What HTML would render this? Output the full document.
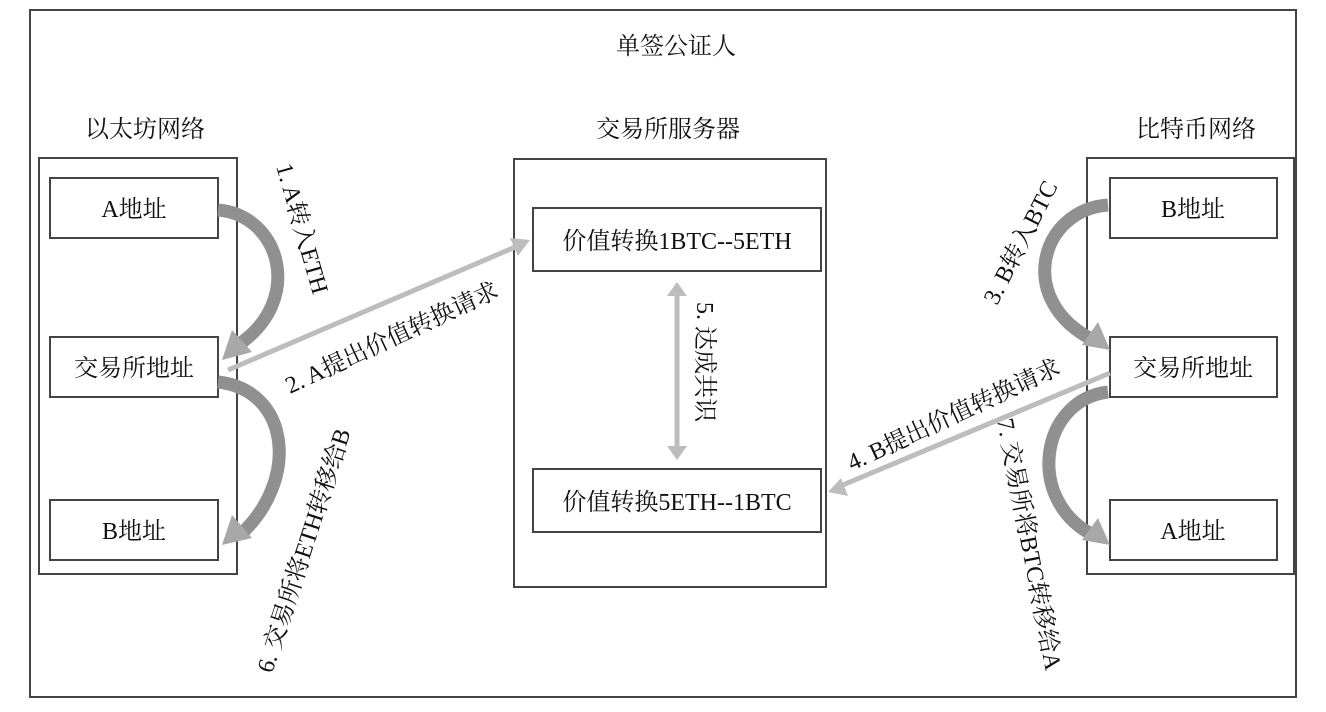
<!DOCTYPE html>
<html><head><meta charset="utf-8"><style>
html,body{margin:0;padding:0;background:#fff}
svg text{font-family:"Liberation Serif","Noto Serif CJK SC",serif;fill:#111}
</style></head><body>
<svg width="1326" height="707" viewBox="0 0 1326 707" xmlns="http://www.w3.org/2000/svg">
<rect width="1326" height="707" fill="#fff"/>
<g fill="none" stroke="#444" stroke-width="2">
<rect x="30" y="10" width="1266" height="687"/>
<rect x="39" y="158" width="198" height="416"/>
<rect x="50" y="178" width="168" height="60"/>
<rect x="50" y="337" width="168" height="60"/>
<rect x="50" y="500" width="168" height="60"/>
<rect x="514" y="159" width="312" height="428"/>
<rect x="533" y="208" width="288" height="63"/>
<rect x="533" y="469" width="288" height="63"/>
<rect x="1087" y="158" width="207" height="416"/>
<rect x="1110" y="178" width="167" height="60"/>
<rect x="1110" y="337" width="167" height="60"/>
<rect x="1110" y="500" width="167" height="60"/>
</g>
<g font-size="24" text-anchor="middle">
<text x="676" y="54">单签公证人</text>
<text x="145" y="137">以太坊网络</text>
<text x="668" y="137">交易所服务器</text>
<text x="1196" y="137">比特币网络</text>
<text x="134" y="217">A地址</text>
<text x="134" y="376">交易所地址</text>
<text x="134" y="539">B地址</text>
<text x="677" y="249">价值转换1BTC--5ETH</text>
<text x="677" y="510">价值转换5ETH--1BTC</text>
<text x="1193" y="217">B地址</text>
<text x="1193" y="376">交易所地址</text>
<text x="1193" y="539">A地址</text>
</g>
<g fill="none" stroke="#909090" stroke-width="13">
<path d="M218 210 C280 215 305 300 238 345"/>
<path d="M218 382 C290 390 300 480 240 535"/>
<path d="M1108 205 C1040 210 1015 300 1093 340"/>
<path d="M1108 392 C1040 400 1025 500 1093 535"/>
</g>
<g fill="#a8a8a8">
<polygon points="222,360 232,330 252,352"/>
<polygon points="222,545 232,515 252,538"/>
<polygon points="1110,350 1098,322 1082,345"/>
<polygon points="1110,545 1098,518 1082,540"/>
</g>
<g stroke="#bdbdbd" stroke-width="5" fill="none">
<line x1="228" y1="370" x2="520" y2="245"/>
<line x1="1110" y1="373" x2="838" y2="487"/>
<line x1="677" y1="292" x2="677" y2="450"/>
</g>
<g fill="#bdbdbd">
<polygon points="530,240 510,238 518,256"/>
<polygon points="828,492 841,478 848,496"/>
<polygon points="677,282 667,296 687,296"/>
<polygon points="677,460 667,446 687,446"/>
</g>
<g font-size="24">
<text transform="translate(276,166) rotate(74)">1. A转入ETH</text>
<text transform="translate(290,394) rotate(-25)">2. A提出价值转换请求</text>
<text transform="translate(272,674) rotate(-72)">6. 交易所将ETH转移给B</text>
<text transform="translate(697,302) rotate(90)">5. 达成共识</text>
<text transform="translate(997,306) rotate(-63)">3. B转入BTC</text>
<text transform="translate(852,471) rotate(-25)">4. B提出价值转换请求</text>
<text transform="translate(997,420) rotate(79)">7. 交易所将BTC转移给A</text>
</g>
</svg>
</body></html>
